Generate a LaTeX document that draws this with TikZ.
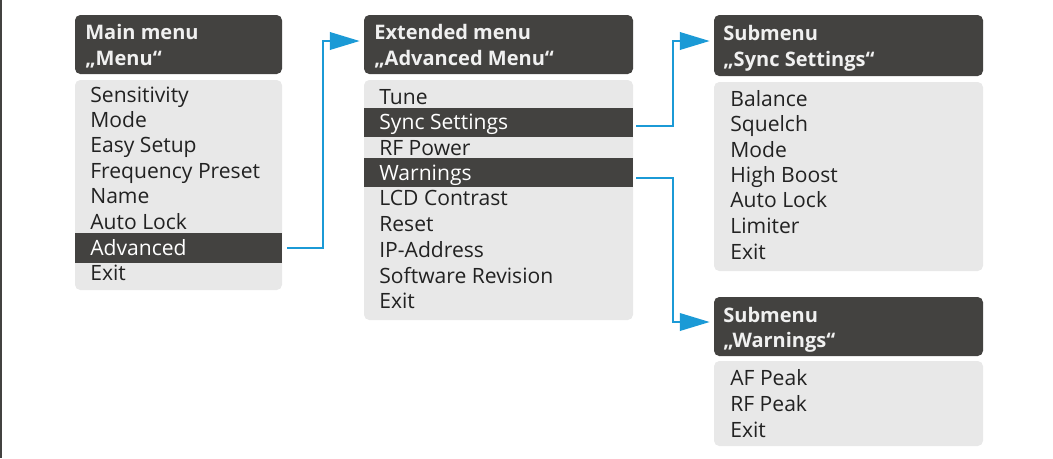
\documentclass[tikz,border=0pt]{standalone}
\usepackage{fontspec}
\setmainfont{Open Sans}
\usetikzlibrary{positioning,calc,fit,arrows.meta}
\definecolor{menudark}{HTML}{434240}
\definecolor{menulight}{HTML}{E8E8E8}
\definecolor{menutext}{HTML}{222222}
\definecolor{linkblue}{HTML}{1B9AD6}
\newcommand{\menufont}{\fontsize{12pt}{14.4pt}\selectfont}
\newcommand{\hdrfont}{\fontsize{11.4pt}{14.4pt}\selectfont\bfseries}
\tikzset{
  hdrbox/.style={fill=menudark, rounded corners=3pt, inner sep=0pt},
  bodybox/.style={fill=menulight, rounded corners=3pt, inner sep=0pt},
  selrow/.style={fill=menudark, inner sep=0pt},
  entry/.style={anchor=base west, inner sep=0pt, text=menutext},
  selentry/.style={entry, text=white},
  hdrtext/.style={anchor=base west, inner sep=0pt, text=white!94!black, font=\hdrfont},
  link/.style={draw=linkblue, line width=1.1pt, -{Triangle[length=17pt,width=10pt]}}
}

\begin{document}
\begin{tikzpicture}[x=0.02cm, y=-0.02cm, font=\menufont]
		\useasboundingbox (0,0) rectangle (1053,458);
		\draw[menudark, line width=1.2pt] (0.6,0) -- (0.6,458);
		
		% main menu
		\node[hdrbox, fit={(75,15) (282,74)}] (mainhdr) {};
		\node[hdrtext] (mainT1) at (85,39) {Main menu};
		\node[hdrtext] (mainT2) at (85,65) {„Menu“};
		\node[bodybox, fit={(75,80) (282,290)}] (mainbody) {};
		\node[selrow, fit={(75,233) (282,263)}] (advrow) {};
		\node[entry] (sens) at (90,102) {Sensitivity};
		\node[entry] (mode) at (90,127) {Mode};
		\node[entry] (easy) at (90,152.5) {Easy Setup};
		\node[entry] (freq) at (90,178) {Frequency Preset};
		\node[entry] (name) at (90,203) {Name};
		\node[entry] (lock) at (90,229) {Auto Lock};
		\node[selentry] (adv) at (90,255) {Advanced};
		\node[entry] (mainexit) at (90,280) {Exit};
		
		% extended menu
		\node[hdrbox, fit={(364,15) (633,74)}] (exthdr) {};
		\node[hdrtext] (extT1) at (374,39) {Extended menu};
		\node[hdrtext] (extT2) at (374,65) {„Advanced Menu“};
		\node[bodybox, fit={(364,80) (633,320)}] (extbody) {};
		\node[selrow, fit={(364,108) (633,137)}] (syncrow) {};
		\node[selrow, fit={(364,158) (633,187)}] (warnrow) {};
		\node[entry] (tune) at (379,104) {Tune};
		\node[selentry] (sync) at (379,129.5) {Sync Settings};
		\node[entry] (rfpow) at (379,155) {RF Power};
		\node[selentry] (warn) at (379,180) {Warnings};
		\node[entry] (lcd) at (379,205.5) {LCD Contrast};
		\node[entry] (reset) at (379,231) {Reset};
		\node[entry] (ip) at (379,257) {IP-Address};
		\node[entry] (soft) at (379,283) {Software Revision};
		\node[entry] (extexit) at (379,308) {Exit};
		
		% submenu sync settings
		\node[hdrbox, fit={(714,15) (983,76)}] (synchdr) {};
		\node[hdrtext] (syncT1) at (723,40) {Submenu};
		\node[hdrtext] (syncT2) at (723,66) {„Sync Settings“};
		\node[bodybox, fit={(714,82) (983,271)}] (syncbody) {};
		\node[entry] (bal) at (730,106) {Balance};
		\node[entry] (squ) at (730,131) {Squelch};
		\node[entry] (smode) at (730,157) {Mode};
		\node[entry] (boost) at (730,182) {High Boost};
		\node[entry] (slock) at (730,207.5) {Auto Lock};
		\node[entry] (lim) at (730,233) {Limiter};
		\node[entry] (syncexit) at (730,259) {Exit};
		
		% submenu warnings
		\node[hdrbox, fit={(714,297) (983,356)}] (warnhdr) {};
		\node[hdrtext] (warnT1) at (723,322) {Submenu};
		\node[hdrtext] (warnT2) at (723,347) {„Warnings“};
		\node[bodybox, fit={(714,361) (983,446)}] (warnbody) {};
		\node[entry] (afpk) at (730,385) {AF Peak};
		\node[entry] (rfpk) at (730,411) {RF Peak};
		\node[entry] (warnexit) at (730,437) {Exit};
		
		\draw[link] ($(advrow.east)+(5,0)$) -- ++(36,0) |- ($(exthdr.west)+(-4,-3.5)$);
		\draw[link] ($(syncrow.east)+(3,3.5)$) -- ++(37,0) |- ($(synchdr.west)+(-4,-4.5)$);
		\draw[link] ($(warnrow.east)+(3,5.5)$) -- ++(37,0) |- ($(warnhdr.west)+(-4,-4.5)$);
	\end{tikzpicture}
\end{document}
